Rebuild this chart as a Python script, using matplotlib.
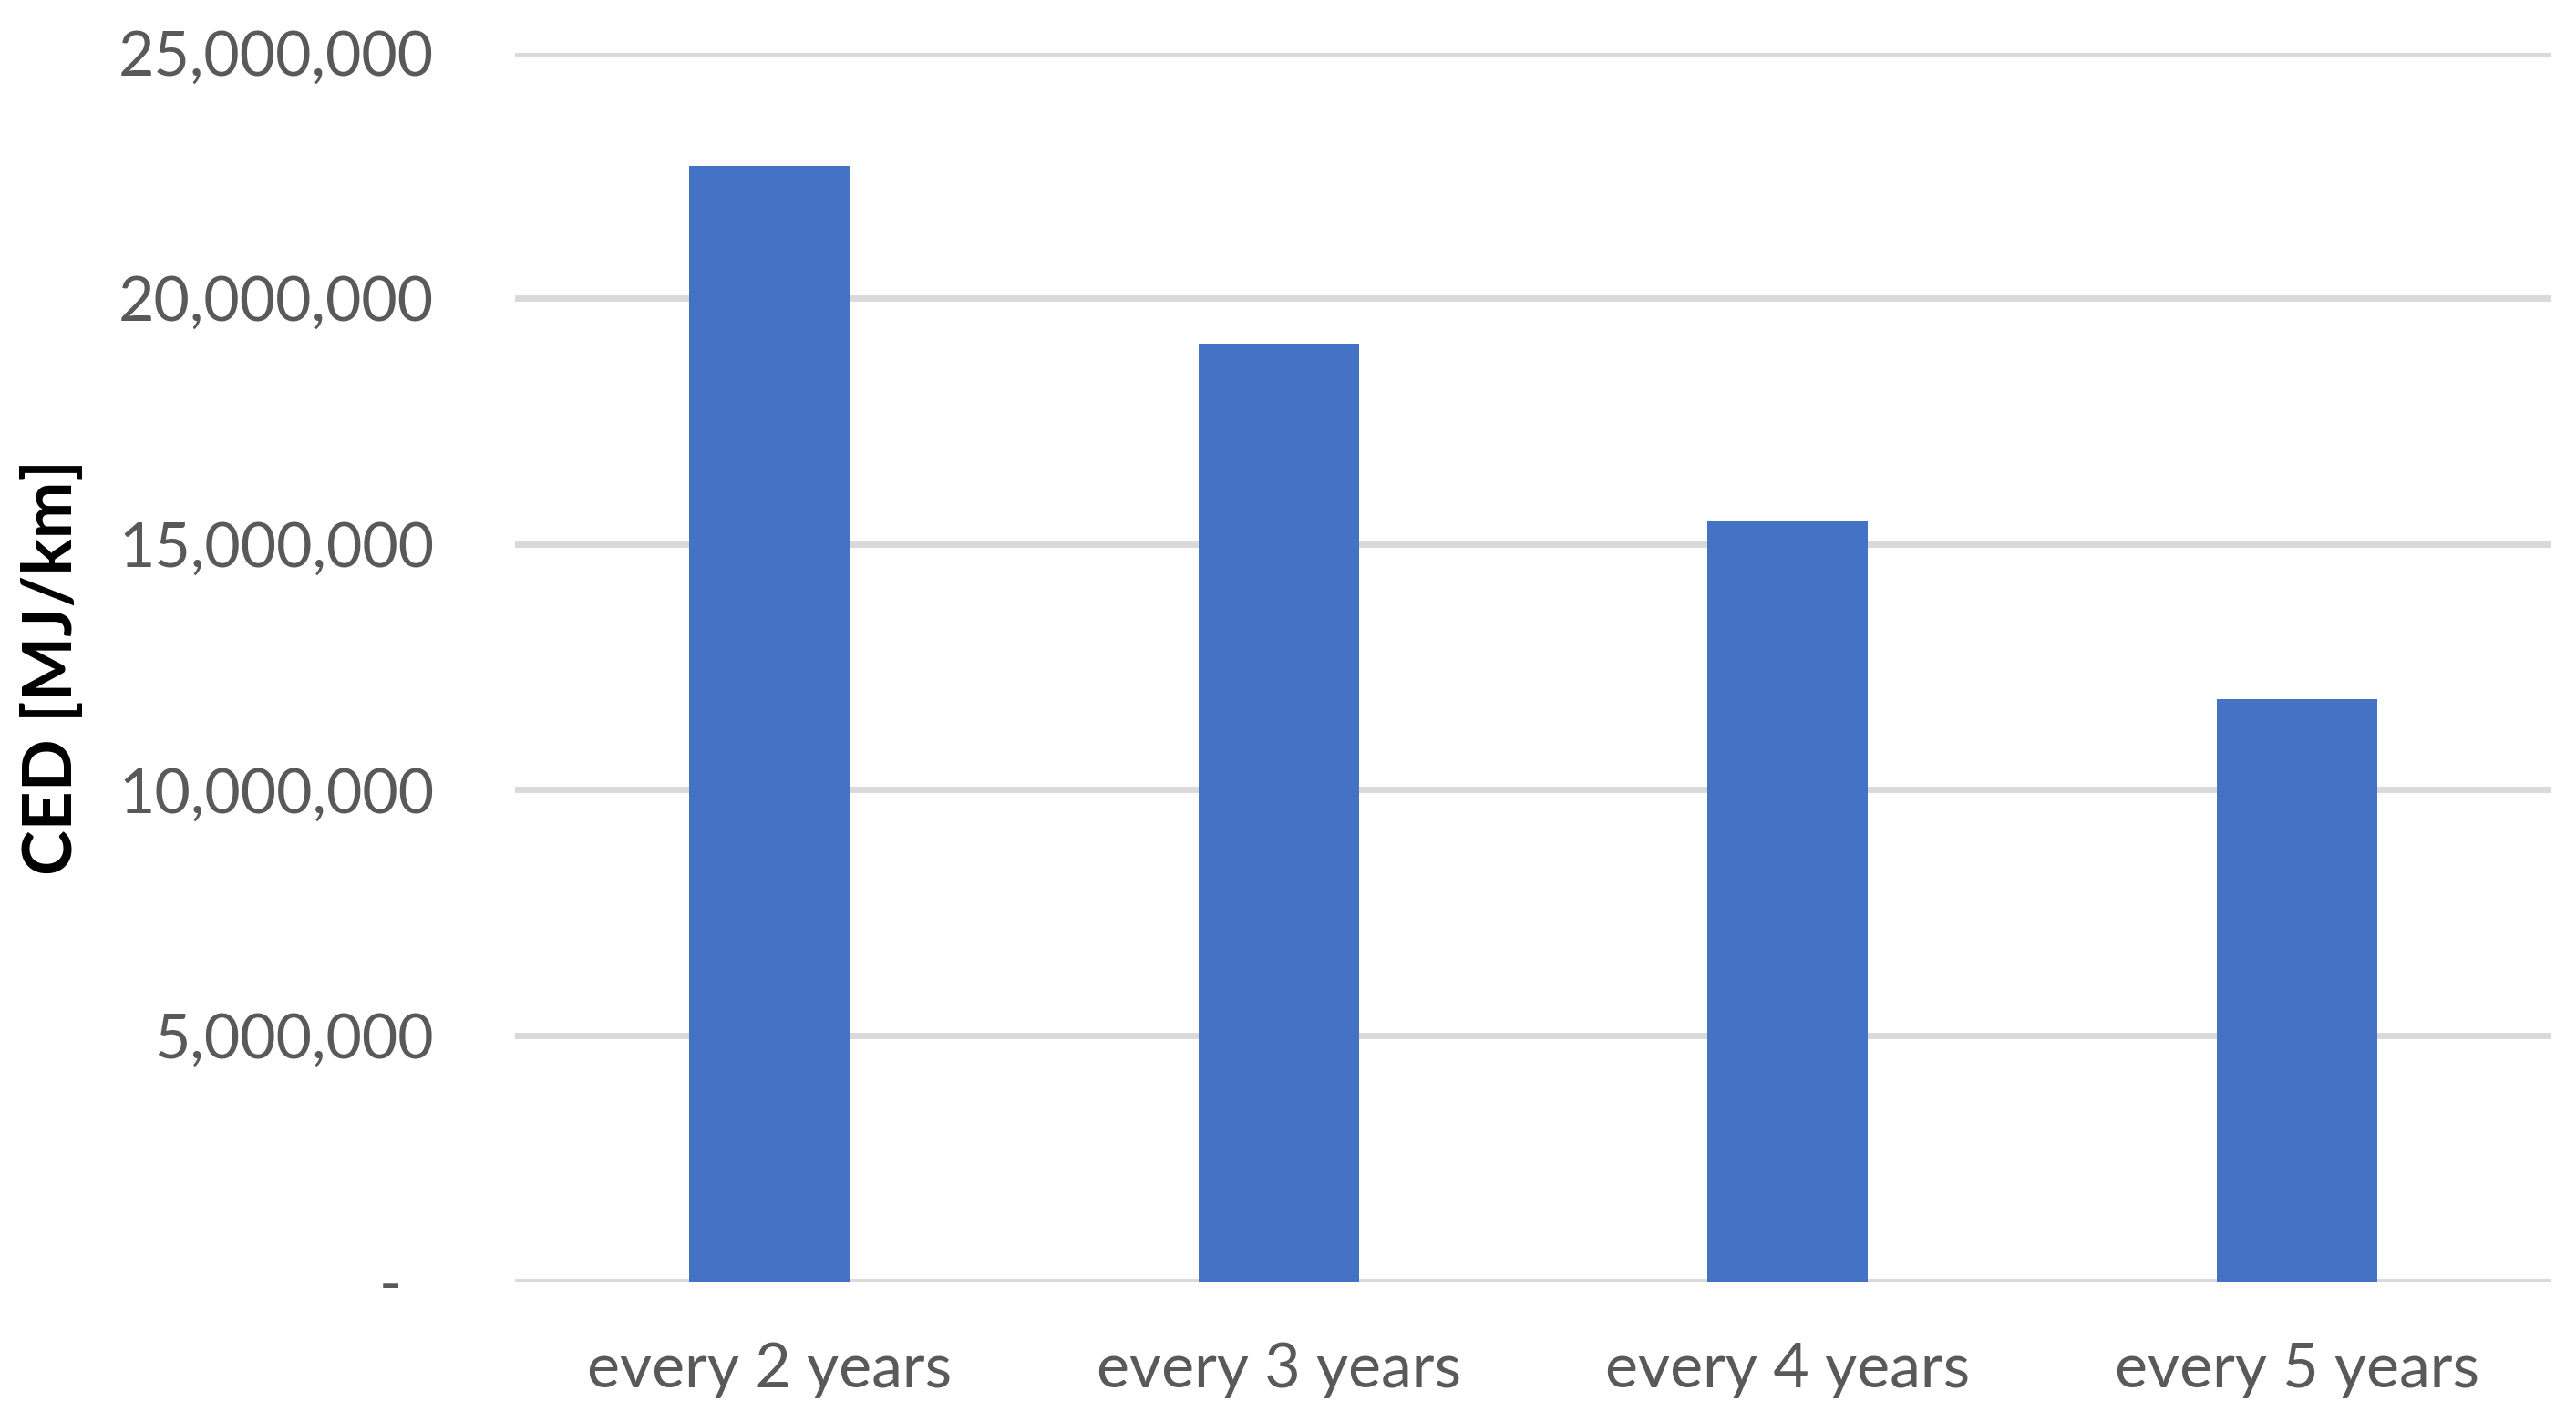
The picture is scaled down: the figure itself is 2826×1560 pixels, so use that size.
import matplotlib
matplotlib.use("Agg")
import matplotlib.pyplot as plt

# data
categories = ["every 2 years", "every 3 years", "every 4 years", "every 5 years"]
ced_values = [22690000, 19070000, 15450000, 11840000]
y_ticks = [0, 5000000, 10000000, 15000000, 20000000, 25000000]
y_tick_labels = ["-  ", "5,000,000", "10,000,000", "15,000,000", "20,000,000", "25,000,000"]

plt.rcParams["font.family"] = ["Lato", "DejaVu Sans"]

fig = plt.figure(figsize=(28.26, 15.6), dpi=100)
ax = fig.add_axes([0.2, 0.099, 0.7904, 0.8641])

x = range(len(categories))
ax.bar(x, ced_values, width=0.315, color="#4472C4", zorder=3)

ax.set_xlim(-0.5, len(categories) - 0.5)
ax.set_ylim(0, 25000000)
ax.set_yticks(y_ticks)
ax.set_yticklabels(y_tick_labels)
ax.set_xticks(list(x))
ax.set_xticklabels(categories)

# gridlines in light grey, no frame
ax.grid(axis="y", color="#D9D9D9", linewidth=5, zorder=0)
for s in ax.spines.values():
    s.set_visible(False)
ax.tick_params(axis="both", length=0, labelcolor="#595959", labelsize=49)
ax.tick_params(axis="y", pad=64)
ax.tick_params(axis="x", pad=48)

ax.set_ylabel("CED [MJ/km]", fontsize=54, fontweight="bold", color="black")
ax.yaxis.set_label_coords(-0.212, 0.5)

fig.savefig("out.png", dpi=100, facecolor="white")
